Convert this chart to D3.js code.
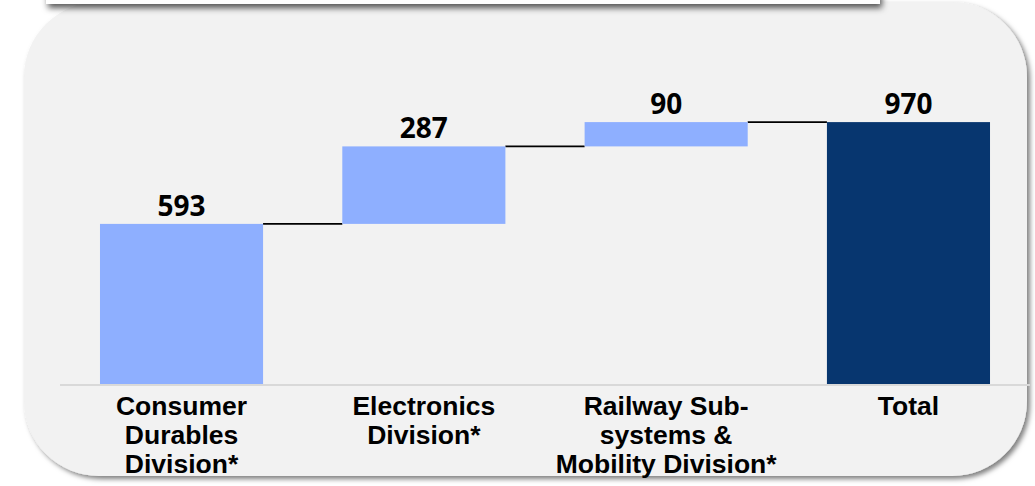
<!DOCTYPE html>
<html>
<head>
<meta charset="utf-8">
<script src="https://cdn.jsdelivr.net/npm/d3@7"></script>
<style>
  html, body { margin: 0; padding: 0; background: #ffffff; }
  svg { display: block; }
</style>
</head>
<body>
<svg id="chart" width="1035" height="486"></svg>
<script>
// Waterfall of division contributions building up to the total
const categories = [
  ["Consumer", "Durables", "Division*"],
  ["Electronics", "Division*"],
  ["Railway Sub-", "systems &", "Mobility Division*"],
  ["Total"]
];
const values = [593, 287, 90, 970];
const isTotal = [false, false, false, true];

const svg = d3.select("#chart");

const defs = svg.append("defs");
const shadow = defs.append("filter").attr("id", "shadow")
  .attr("x", "-10%").attr("y", "-10%").attr("width", "120%").attr("height", "130%");
shadow.append("feDropShadow")
  .attr("dx", 3).attr("dy", 3).attr("stdDeviation", 2.5)
  .attr("flood-color", "#000").attr("flood-opacity", 0.5);

const stripShadow = defs.append("filter").attr("id", "stripShadow")
  .attr("x", "-10%").attr("y", "-10%").attr("width", "120%").attr("height", "150%");
stripShadow.append("feDropShadow")
  .attr("dx", 2).attr("dy", 4).attr("stdDeviation", 3)
  .attr("flood-color", "#000").attr("flood-opacity", 0.65);

// Rounded grey panel
svg.append("rect")
  .attr("x", 24).attr("y", 2).attr("width", 1003).attr("height", 474)
  .attr("rx", 75).attr("ry", 75)
  .attr("fill", "#f2f2f2")
  .attr("filter", "url(#shadow)");

// Title strip peeking in from above
svg.append("rect")
  .attr("x", 46).attr("y", -40).attr("width", 834).attr("height", 44)
  .attr("fill", "#ffffff")
  .attr("filter", "url(#stripShadow)");

// Scales
const x = d3.scaleBand()
  .domain(d3.range(values.length))
  .range([60, 1030])
  .paddingInner(0.327)
  .paddingOuter(0.165);

const y = d3.scaleLinear().domain([0, 1000]).range([384, 114]);

// Running totals for floating bars
let run = 0;
const bars = values.map((v, i) => {
  if (isTotal[i]) return { i, v, y0: 0, y1: v };
  const b = { i, v, y0: run, y1: run + v };
  run += v;
  return b;
});

const g = svg.append("g");

// Baseline
g.append("line")
  .attr("x1", 60).attr("x2", 1030)
  .attr("y1", y(0) + 1).attr("y2", y(0) + 1)
  .attr("stroke", "#d9d9d9").attr("stroke-width", 2);

// Connectors between consecutive bars
g.selectAll("line.conn")
  .data(bars.slice(0, -1))
  .join("line")
  .attr("class", "conn")
  .attr("x1", d => x(d.i) + x.bandwidth())
  .attr("x2", d => x(d.i + 1))
  .attr("y1", d => y(d.y1))
  .attr("y2", d => y(d.y1))
  .attr("stroke", "#000").attr("stroke-width", 1.6);

// Bars
g.selectAll("rect.bar")
  .data(bars)
  .join("rect")
  .attr("class", "bar")
  .attr("x", d => x(d.i))
  .attr("width", x.bandwidth())
  .attr("y", d => y(d.y1))
  .attr("height", d => y(d.y0) - y(d.y1))
  .attr("fill", d => isTotal[d.i] ? "#07366f" : "#8eafff");

// Value labels
g.selectAll("text.val")
  .data(bars)
  .join("text")
  .attr("class", "val")
  .attr("x", d => x(d.i) + x.bandwidth() / 2)
  .attr("y", d => y(d.y1) - 8)
  .attr("text-anchor", "middle")
  .style("font-family", "'Open Sans', sans-serif")
  .style("font-weight", 700)
  .style("font-size", "28px")
  .attr("fill", "#000")
  .text(d => d.v);

// Category labels
const cat = g.selectAll("text.cat")
  .data(categories)
  .join("text")
  .attr("class", "cat")
  .attr("x", (d, i) => x(i) + x.bandwidth() / 2)
  .attr("y", 415)
  .attr("text-anchor", "middle")
  .style("font-family", "'Liberation Sans', Arial, sans-serif")
  .style("font-weight", 700)
  .style("font-size", "26.5px")
  .attr("fill", "#000");

cat.selectAll("tspan")
  .data(d => d)
  .join("tspan")
  .attr("x", function() { return d3.select(this.parentNode).attr("x"); })
  .attr("dy", (d, j) => j === 0 ? 0 : 29)
  .text(d => d);
</script>
</body>
</html>
